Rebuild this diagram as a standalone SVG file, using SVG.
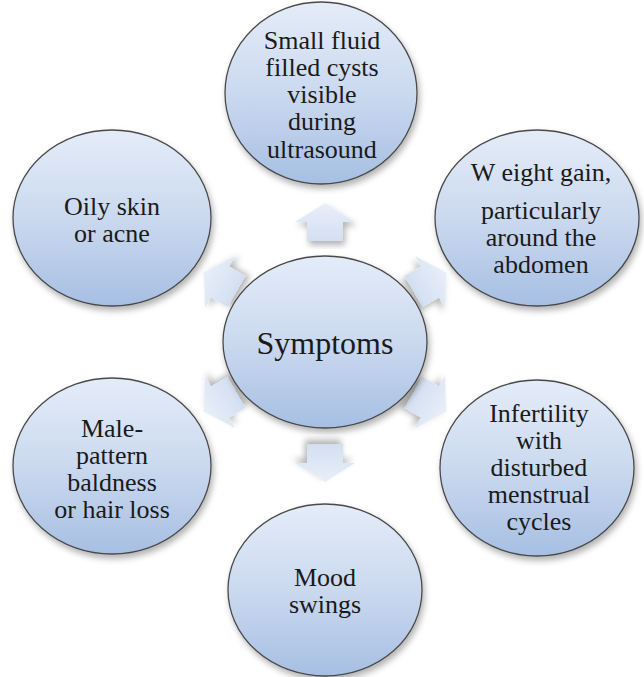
<svg xmlns="http://www.w3.org/2000/svg" width="644" height="677" viewBox="0 0 644 677">
<defs>
<linearGradient id="gc" x1="0" y1="0" x2="0" y2="1">
<stop offset="0" stop-color="#e4ecf8"/>
<stop offset="0.5" stop-color="#cbd9ef"/>
<stop offset="1" stop-color="#a6bfe3"/>
</linearGradient>
<linearGradient id="ga" x1="0" y1="0" x2="0" y2="1">
<stop offset="0" stop-color="#e9eff9"/>
<stop offset="1" stop-color="#d3dff1"/>
</linearGradient>
<filter id="sh" x="-20%" y="-20%" width="140%" height="140%">
<feDropShadow dx="2" dy="4" stdDeviation="3" flood-color="#000" flood-opacity="0.3"/>
</filter>
<path id="arr" d="M0,-19 L30,0 L18,0 L18,19 L-18,19 L-18,0 L-30,0 Z"/>
</defs>
<style>
.node ellipse{fill:url(#gc);stroke:#4a4a4a;stroke-width:1.3;filter:url(#sh)}
.node text{font-size:26px;fill:#1a1a1a;text-anchor:middle}
#center text{font-size:32px}
.conn use{fill:url(#ga);filter:url(#sh)}
</style>
<rect width="644" height="677" fill="#fff"/>
<g class="conn" id="connectors">
<use href="#arr" transform="translate(325,222)"/>
<use href="#arr" transform="translate(430,282) rotate(60)"/>
<use href="#arr" transform="translate(430,402) rotate(120)"/>
<use href="#arr" transform="translate(325,463) rotate(180)"/>
<use href="#arr" transform="translate(220,402) rotate(240)"/>
<use href="#arr" transform="translate(220,282) rotate(300)"/>
</g>
<g font-family="'Liberation Serif', 'DejaVu Serif', 'Times New Roman', serif">
<g class="node" id="center">
<ellipse cx="325" cy="342" rx="102" ry="86"/>
<text x="325" y="354">Symptoms</text>
</g>
<g class="node" id="n-cysts">
<ellipse cx="321" cy="93" rx="96" ry="91"/>
<text x="322" y="49">Small fluid</text>
<text x="322" y="76">filled cysts</text>
<text x="322" y="103">visible</text>
<text x="322" y="130">during</text>
<text x="322" y="158">ultrasound</text>
</g>
<g class="node" id="n-weight">
<ellipse cx="537" cy="218" rx="102" ry="88"/>
<text x="541" y="181">W eight gain,</text>
<text x="541" y="219">particularly</text>
<text x="541" y="246">around the</text>
<text x="541" y="273">abdomen</text>
</g>
<g class="node" id="n-infertility">
<ellipse cx="537" cy="468" rx="97" ry="88"/>
<text x="539" y="422">Infertility</text>
<text x="539" y="449">with</text>
<text x="539" y="476">disturbed</text>
<text x="539" y="503">menstrual</text>
<text x="539" y="530">cycles</text>
</g>
<g class="node" id="n-mood">
<ellipse cx="325" cy="590" rx="97" ry="86"/>
<text x="325" y="586">Mood</text>
<text x="325" y="613">swings</text>
</g>
<g class="node" id="n-hair">
<ellipse cx="112" cy="466" rx="99" ry="88"/>
<text x="112" y="437">Male-</text>
<text x="112" y="464">pattern</text>
<text x="112" y="491">baldness</text>
<text x="112" y="518">or hair loss</text>
</g>
<g class="node" id="n-skin">
<ellipse cx="112" cy="218" rx="99" ry="88"/>
<text x="112" y="215">Oily skin</text>
<text x="112" y="242">or acne</text>
</g>
</g>
</svg>
